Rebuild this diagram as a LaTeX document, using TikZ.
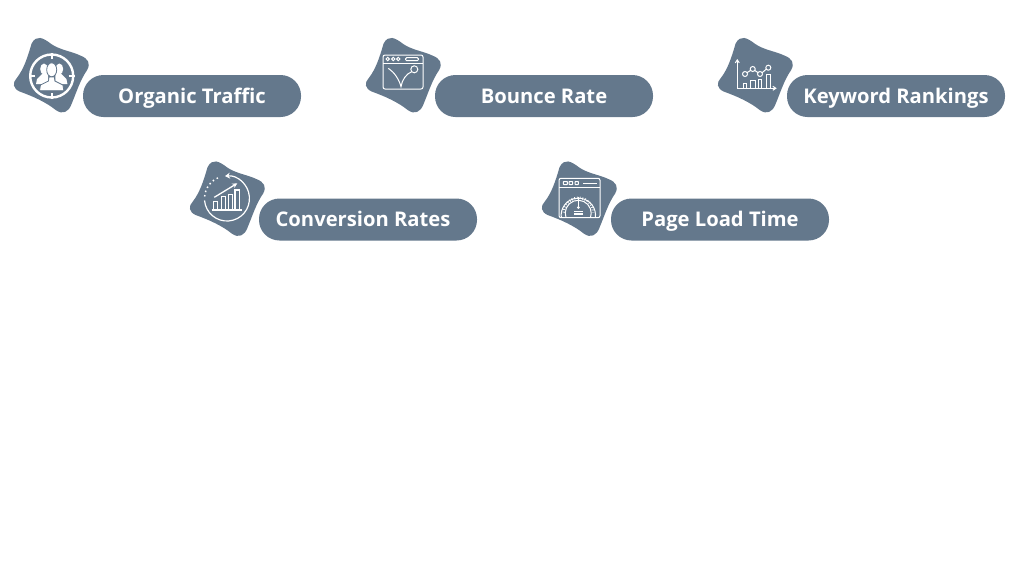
\documentclass[tikz,border=0pt]{standalone}
\usepackage{fontspec}
\setmainfont{Open Sans}
\usepackage{tikz}
\usetikzlibrary{positioning,arrows.meta}
\definecolor{slate}{HTML}{64788C}
\tikzset{
    blob/.pic={
        \fill [slate, scale=0.975] (-20,-32) .. controls (-15,-42) and (-8,-38) .. (0,-32)
            .. controls (8,-26) and (22,-24) .. (30,-20)
            .. controls (38,-17) and (41,-12) .. (37,-5)
            .. controls (30,5) and (26,18) .. (21,30)
            .. controls (18,38) and (12,41) .. (5,36)
            .. controls (-5,28) and (-18,22) .. (-32,17)
            .. controls (-39,14) and (-40,8) .. (-35,3)
            .. controls (-28,-6) and (-24,-18) .. (-20,-32) -- cycle;
    },
    people/.pic={
        \draw [white, line width=2.4pt] (0.7,1) circle [radius=21.5pt];
        \foreach \dx/\dy in {0/-1,0/1,-1/0,1/0}
            \draw [white, line width=1.8pt] (0.7+17*\dx,1+17*\dy) -- (0.7+23*\dx,1+23*\dy);
        \fill [white] (-7,-6) ellipse [x radius=3.8pt, y radius=5.5pt];
        \fill [white] (8.4,-6) ellipse [x radius=3.8pt, y radius=5.5pt];
        \fill [white] (-15,9) -- (-14,4) -- (-8,-2) -- (-3,-2) -- (-3,9) -- cycle;
        \fill [white] (16.4,9) -- (15.4,4) -- (9.4,-2) -- (4.4,-2) -- (4.4,9) -- cycle;
        \draw [slate, fill=white, line width=0.8pt] (0.7,-5.2) ellipse [x radius=5pt, y radius=7pt];
        \draw [slate, fill=white, line width=0.8pt] (-11.5,15.7) -- (-10.5,10) -- (-2.5,6) -- (-2,2) -- (3.4,2) -- (3.9,6) -- (11.9,10) -- (12.9,15.7) -- cycle;
    },
    browser/.pic={
        \draw [thinline, rounded corners=2pt] (-20,-20) rectangle (20,14);
        \draw [thinline] (-20,-12) -- (20,-12);
        \draw [thinline] (-15.3,-16) circle [radius=1.7pt];
        \draw [thinline] (-9.7,-16) circle [radius=1.7pt];
        \draw [thinline] (-4.7,-16) circle [radius=1.7pt];
        \draw [thinline, rounded corners=1pt] (2.7,-17.3) rectangle (15.3,-14.3);
        \draw [thinline] (11.3,-5.7) circle [radius=3.5pt];
        \draw [thinline] (-14.7,-6.7) .. controls (-9,-3) and (-4,4) .. (-2,11.7)
            .. controls (-1,5) and (3,-1) .. (8.8,-3.4);
    },
    rankchart/.pic={
        \draw [thinline, -{Straight Barb[length=3pt,width=4pt]}] (-17.7,13.3) -- (-17.7,-16);
        \draw [thinline, -{Straight Barb[length=3pt,width=4pt]}] (-17.7,13.3) -- (21.7,13.3);
        \draw [thinline] (-11.7,13.3) rectangle (-8.3,8.3);
        \draw [thinline] (-4.3,13.3) rectangle (0,5.7);
        \draw [thinline] (3.3,13.3) rectangle (6.7,4);
        \draw [thinline] (11,13.3) rectangle (15,-1);
        \draw [thinline] (-10,-1) circle [radius=2.5pt];
        \draw [thinline] (-2.3,-6) circle [radius=2.5pt];
        \draw [thinline] (5,-1) circle [radius=2.5pt];
        \draw [thinline] (13.3,-7.3) circle [radius=2.5pt];
        \draw [thinline] (-8,-2.3) -- (-4.3,-4.7);
        \draw [thinline] (-0.3,-4.6) -- (3,-2.4);
        \draw [thinline] (7,-2.2) -- (11.2,-5.8);
    },
    growth/.pic={
        \draw [white, line width=1.2pt, {Stealth[length=5pt,width=6pt]}-] (-2,-22.4) arc [start angle=95, end angle=-175, radius=22.5pt];
        \draw [white, line width=1.5pt, dash pattern=on 1.5pt off 3pt] (-22.4,-2) arc [start angle=175, end angle=110, radius=22.5pt];
        \draw [thinline, line width=1.3pt] (-13.7,11.5) -- (-13.7,3.2) -- (-9.3,3.2) -- (-9.3,11.5);
        \draw [thinline, line width=1.3pt] (-5.3,11.5) -- (-5.3,-1.8) -- (-1.3,-1.8) -- (-1.3,11.5);
        \draw [thinline, line width=1.3pt] (1.3,11.5) -- (1.3,-4.2) -- (5.3,-4.2) -- (5.3,11.5);
        \draw [thinline, line width=1.3pt] (8,11.5) -- (8,-8.5) -- (12.3,-8.5) -- (12.3,11.5);
        \draw [thinline, line width=1.3pt] (-15.3,11.5) -- (14.7,11.5);
        \draw [thinline, line width=1.3pt, -{Stealth[length=5pt,width=5pt]}] (-12.7,-1.2) -- (10.3,-15.2);
    },
    gauge/.pic={
        \draw [thinline, rounded corners=2pt] (-20,-20.2) rectangle (21,19.2);
        \draw [thinline] (-20,-10.8) -- (21,-10.8);
        \draw [thinline, rounded corners=0.5pt] (-15.7,-17) rectangle (-11.7,-14);
        \draw [thinline, rounded corners=0.5pt] (-10,-17) rectangle (-6.3,-14);
        \draw [thinline, rounded corners=0.5pt] (-4,-17) rectangle (-0.7,-14);
        \draw [thinline] (4.3,-15.5) -- (17.7,-15.5);
        \draw [thinline] (-17.7,19.2) arc [start angle=188, end angle=-8, radius=17.2pt];
        \draw [thinline] (-13,19.2) arc [start angle=200, end angle=-20, radius=13pt];
        \draw [white, line width=2.5pt, dash pattern=on 0.7pt off 2pt] (-15.2,14) arc [start angle=180, end angle=0, radius=14.7pt];
        \draw [thinline, line width=1.2pt] (-0.7,-1.8) -- (-0.7,8.2);
        \fill [white] (-0.7,9) circle [radius=1.5pt];
        \draw [thinline, line width=1.2pt] (-4.7,13.2) -- (4,13.2);
        \draw [thinline, line width=1.2pt] (-4.7,15.5) -- (4,15.5);
    },
}
\begin{document}
\begin{tikzpicture}[x=1pt, y=-1pt,
    thinline/.style={white, line width=1pt},
    pill/.style={fill=slate, text=white, rounded corners=20.5pt, minimum width=218pt, minimum height=42pt,
        inner sep=0pt, text height=15pt, text depth=0.4pt, font=\fontsize{20.2}{24}\selectfont\bfseries}]
    \useasboundingbox (0,0) rectangle (1024,576);

    \node [pill] (organic) at (192,96) {Organic Traffic};
    \node [pill, right of=organic, node distance=352pt] (bounce) {Bounce Rate};
    \node [pill, right of=bounce, node distance=352pt] (keyword) {Keyword Rankings};
    \node [pill] (conversion) at (368,219.5) {Conversion Rates\kern10pt};
    \node [pill, right of=conversion, node distance=352pt] (pageload) {Page Load Time};

    \coordinate (organicicon) at ([shift={(-141,-21)}]organic.center);
    \coordinate (bounceicon) at ([shift={(-141,-21)}]bounce.center);
    \coordinate (keywordicon) at ([shift={(-141,-21)}]keyword.center);
    \coordinate (conversionicon) at ([shift={(-141,-21)}]conversion.center);
    \coordinate (pageloadicon) at ([shift={(-141,-21)}]pageload.center);

    \pic at (organicicon) {blob};
    \pic at (bounceicon) {blob};
    \pic at (keywordicon) {blob};
    \pic at (conversionicon) {blob};
    \pic at (pageloadicon) {blob};

    \pic at (organicicon) {people};
    \pic at (bounceicon) {browser};
    \pic at (keywordicon) {rankchart};
    \pic at (conversionicon) {growth};
    \pic at (pageloadicon) {gauge};
\end{tikzpicture}
\end{document}
